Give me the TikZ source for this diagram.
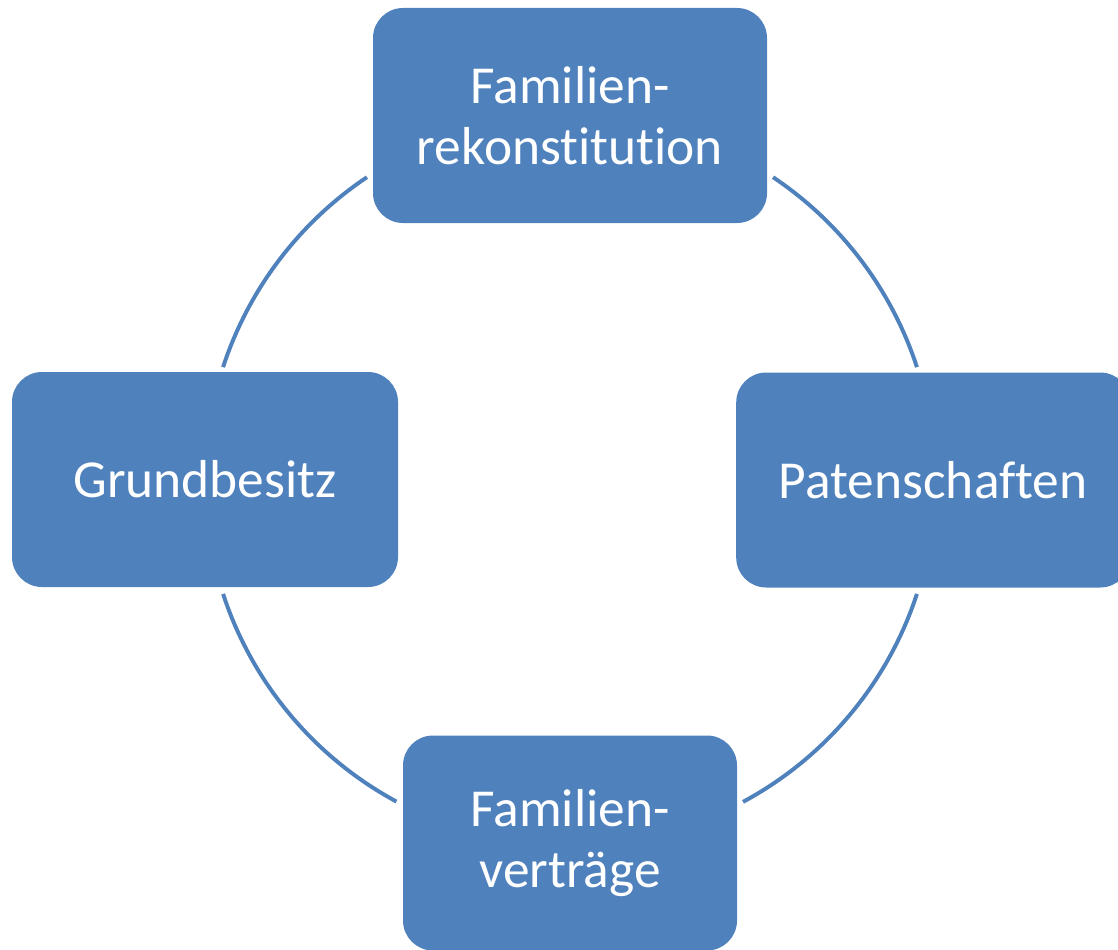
\documentclass[tikz,border=0pt]{standalone}
\usepackage{fontspec}
\setmainfont{Carlito}[Ligatures={NoCommon}]
\definecolor{boxblue}{HTML}{4F81BD}
\tikzset{
  kbox/.style={rectangle, rounded corners=0.75cm, fill=boxblue, text=white,
    align=center, inner sep=0pt, minimum height=5.375cm,
    font=\fontsize{38}{43}\selectfont},
  ring/.style={draw=boxblue, line width=2.8pt}
}
\begin{document}
\begin{tikzpicture}
\useasboundingbox (0,0) rectangle (27.95,-23.725);
\coordinate (c) at (14.25,-12.0125);

\node[kbox, minimum width=9.85cm] (fam) at (14.25,-2.8875) {Familien-\\rekonstitution};
\node[kbox, minimum width=9.65cm] (grund) at (5.125,-11.9875) {Grundbesitz};
\node[kbox, minimum width=9.85cm] (paten) at (23.33,-12.0) {Patenschaften};
\node[kbox, minimum width=8.35cm] (vert) at (14.25,-21.075) {Familien-\\verträge};

% Kreisbögen zwischen den Kästen
\draw[ring] ([shift={(123.8:9.125)}]c) arc (123.8:161.9:9.125);
\draw[ring] ([shift={(56.2:9.125)}]c) arc (56.2:18.1:9.125);
\draw[ring] ([shift={(198.1:9.125)}]c) arc (198.1:241.6:9.125);
\draw[ring] ([shift={(-18.1:9.125)}]c) arc (-18.1:-61.7:9.125);
\end{tikzpicture}
\end{document}
